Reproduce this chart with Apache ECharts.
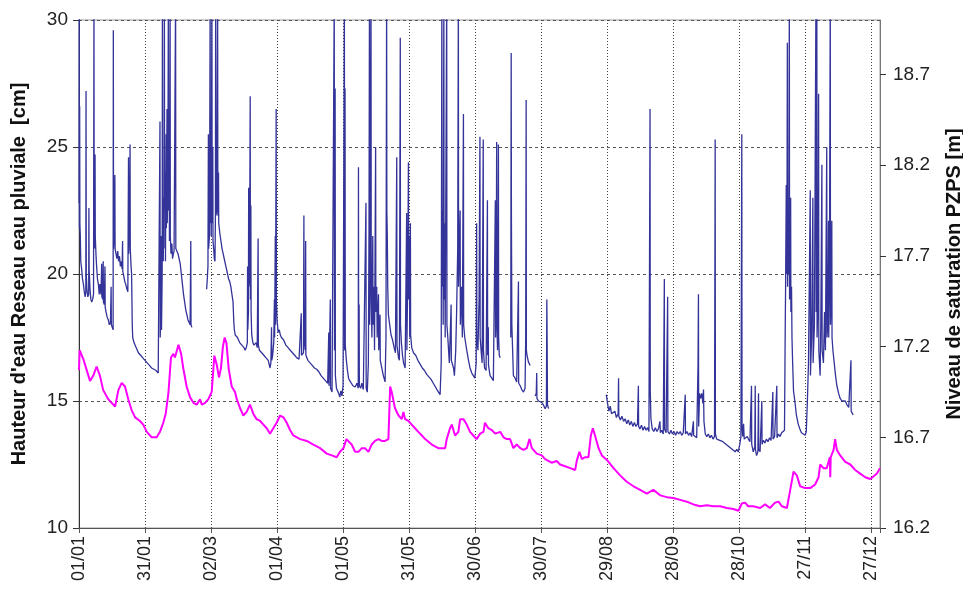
<!DOCTYPE html>
<html>
<head>
<meta charset="utf-8">
<script src="https://cdn.jsdelivr.net/npm/echarts@6/dist/echarts.min.js"></script>
<style>
html,body{margin:0;padding:0;background:#fff;}
#chart{width:963px;height:592px;}
</style>
</head>
<body>
<div id="chart"></div>
<script>
// x tick labels (every 30 days from 01/01)
const xTickLabels = ['01/01','31/01','02/03','01/04','01/05','31/05','30/06','30/07','29/08','28/09','28/10','27/11','27/12'];
// right axis tick labels (m)
const rightTickValues = [16.2, 16.7, 17.2, 17.7, 18.2, 18.7];

// Hauteur d'eau Reseau eau pluviale [cm] : [day of year, value]
const hauteurReseau = [
[0,22.8],[0.1,31],[0.2,21.8],[0.3,26.6],[0.4,22],[0.6,21.5],[0.8,20.5],[1.2,20.2],[1.6,19.8],[2,19.6],[2.4,19.3],[2.8,19.1],[3.1,19.3],[3.2,27.2],[3.3,20.0],[3.6,19.4],[4.0,19.1],[4.4,19.2],[4.5,22.6],[4.6,20.2],[5.0,19.4],[5.4,19.0],[5.8,18.9],[6.2,19.0],[6.6,19.2],[6.8,31],[6.9,21.7],[7.1,21.0],[7.3,24.7],[7.4,21.5],[7.7,20.8],[8.0,20.3],[8.4,19.8],[8.8,19.6],[9.2,19.2],[9.5,19.6],[10,19.2],[10.3,20.4],[10.4,19.1],[10.8,19.0],[11,20.5],[11.1,18.9],[11.5,18.8],[11.8,20.3],[11.9,18.7],[12.3,18.5],[12.8,18.3],[13.3,18.2],[13.8,18.0],[14.3,18.1],[14.6,19.5],[14.7,18.0],[15.1,17.9],[15.5,17.8],[15.6,29.6],[15.7,21.0],[16.0,21.5],[16.3,23.9],[16.4,21.0],[16.8,20.8],[17.2,20.6],[17.6,20.9],[18.0,20.5],[18.4,20.7],[18.8,20.3],[19.2,20.5],[19.6,20.2],[19.8,21.3],[19.9,20.1],[20.4,19.9],[20.8,19.7],[21.2,19.6],[21.8,19.4],[22.2,19.3],[22.5,24.6],[22.6,20.8],[23.0,22.0],[23.2,25.1],[23.3,21.0],[23.6,20.4],[23.9,20.0],[24.2,18.0],[24.4,17.5],[25,17.3],[26,17.1],[27,16.9],[28,16.8],[29,16.7],[30,16.6],[31,16.5],[32,16.4],[33,16.3],[34,16.25],[35,16.2],[36,16.1],[36.5,16.05],[36.7,16.05],[36.8,26.0],[36.9,17.5],[37.2,18.5],[37.4,21.5],[37.5,17.8],[37.8,20.0],[37.9,31],[38.0,21.8],[38.3,20.5],[38.5,23.0],[38.6,21.0],[38.8,31],[38.9,22.5],[39.2,24.0],[39.3,20.5],[39.6,25.5],[39.7,21.8],[40.0,26.5],[40.1,22.0],[40.4,23.5],[40.6,31],[40.7,22.5],[41.0,24.8],[41.1,21.3],[41.4,31],[41.5,21.5],[41.8,20.8],[42.2,21.2],[42.5,20.6],[42.9,20.8],[43.2,20.9],[43.9,31],[44.0,21.0],[44.5,20.9],[45,20.8],[45.5,20.6],[46,20.4],[46.5,20.0],[47,19.6],[47.5,19.2],[48,18.9],[48.5,18.6],[49,18.4],[49.5,18.2],[50,18.1],[50.5,18.0],[50.8,21.3],[50.9,18.0],[51.3,17.9],[51.5,null],
[58.0,19.4],[58.3,19.8],[58.6,20.3],[58.8,25.5],[58.9,21.0],[59.3,21.5],[59.6,31],[59.7,22.0],[60.0,24.0],[60.1,21.5],[60.4,31],[60.5,22.0],[60.8,25.0],[60.9,21.3],[61.2,21.0],[61.5,20.6],[61.8,20.5],[62.0,22.3],[62.1,31],[62.2,22.3],[62.6,22.5],[63.0,31],[63.1,22.3],[63.4,24.0],[63.5,22.0],[64.0,21.6],[64.5,21.3],[65,21.0],[65.5,20.8],[66,20.6],[66.5,20.4],[67,20.2],[67.5,20.0],[68,19.8],[68.5,19.7],[69,19.5],[69.5,19.2],[70,18.9],[70.3,18.2],[70.6,17.8],[71,17.6],[72,17.5],[73,17.3],[74,17.2],[75,17.1],[75.5,17.0],[76.0,17.1],[76.5,17.3],[76.6,20.3],[76.7,17.8],[77.0,18.5],[77.1,23.4],[77.2,19.5],[77.5,20.0],[77.8,27.0],[77.9,19.0],[78.1,22.7],[78.2,18.5],[78.5,17.6],[79,17.3],[79.5,17.2],[80,17.2],[80.5,17.3],[81.0,17.1],[81.4,21.4],[81.5,17.2],[82,17.0],[83,16.9],[84,16.8],[85,16.7],[86,16.6],[86.8,16.3],[87.2,16.5],[87.5,17.9],[87.6,16.6],[88,16.8],[88.5,17.3],[88.8,19.0],[88.9,17.5],[89.2,21.5],[89.3,18.0],[89.6,26.5],[89.7,19.0],[90.0,18.2],[90.5,17.7],[91,17.8],[91.5,17.6],[92,17.5],[93,17.4],[94,17.2],[95,17.1],[96,17.0],[97,16.9],[98,16.8],[99,16.7],[100,16.65],[100.8,16.6],[101.0,18.45],[101.1,16.8],[102.0,16.9],[102.2,22.3],[102.3,17.5],[102.8,17.0],[103.0,21.3],[103.1,16.8],[104,16.6],[105,16.5],[106,16.4],[107,16.3],[108,16.25],[109,16.15],[110,16.0],[111,15.9],[112,15.8],[113,15.7],[113.5,17.7],[113.6,15.6],[114.2,19.0],[114.3,15.5],[115,15.35],[115.8,15.3],[116.0,31],[116.1,17.0],[116.4,27.3],[116.5,16.0],[117,15.5],[118,15.3],[118.5,15.15],[119,15.4],[119.5,15.2],[120,15.6],[120.6,31],[120.7,17.0],[120.9,27.3],[121.0,17.2],[121.5,16.6],[122,16.2],[122.5,15.9],[123,15.8],[123.9,15.75],[124.5,15.6],[125.5,15.55],[126.3,15.7],[126.9,15.5],[127,24.2],[127.1,16.0],[127.3,18.8],[127.4,15.6],[128,15.5],[128.5,15.7],[129.2,15.45],[130,15.5],[130.4,22.8],[130.5,15.5],[131,15.35],[131.5,16.5],[131.8,22.0],[132,31],[132.1,18.0],[132.4,21.5],[132.7,31],[132.8,19.0],[133.1,17.5],[133.5,21.5],[133.6,18.0],[134,19.5],[134.3,17.0],[134.8,25.0],[134.9,18.5],[135.3,19.5],[135.5,17.5],[136.1,19.2],[136.2,17.0],[136.8,18.4],[136.9,16.6],[137.6,16.3],[138.3,16.0],[139.1,15.75],[139.5,17.5],[139.8,31],[139.9,22.5],[140.1,21.5],[140.3,19.5],[140.6,18.4],[141.2,18.0],[141.8,17.6],[142.5,17.4],[143.2,17.1],[143.8,16.9],[144.4,24.6],[144.5,17.2],[145.2,16.7],[145.6,16.6],[146,29.3],[146.1,18.0],[146.5,17.3],[147,16.8],[147.5,16.5],[148.2,16.3],[148.9,22.4],[149,17.0],[149.4,20.0],[149.7,24.4],[149.8,19.0],[150.1,21.5],[150.3,17.5],[150.6,22.0],[150.7,17.6],[151.2,17.1],[152,16.9],[153,16.8],[154,16.6],[155,16.45],[156,16.3],[157,16.2],[158,16.05],[159,15.95],[160,15.85],[161,15.7],[162,15.55],[163,15.4],[164.1,15.25],[164.6,16.5],[164.9,31],[165.0,19.5],[165.3,22.5],[165.5,18.0],[165.8,31],[165.9,19.0],[166.2,22.0],[166.4,17.5],[167.1,31],[167.2,18.0],[167.6,17.5],[168.3,16.5],[169.1,18.8],[169.2,16.6],[169.6,16.55],[170.2,16.3],[170.6,16.0],[171.2,17.0],[171.6,18.5],[172.1,21.0],[172.4,31],[172.5,19.5],[173.2,22.5],[173.3,18.0],[173.8,19.5],[174.2,17.5],[174.7,26.3],[174.8,18.0],[175.3,17.5],[176.2,17.0],[177,16.6],[177.7,16.3],[178.5,16.1],[179.2,16.0],[179.9,15.9],[180.5,16.5],[180.7,22.0],[180.8,17.5],[181.3,17.0],[181.8,19.0],[182.2,25.4],[182.3,17.5],[182.8,16.9],[183.2,16.5],[183.7,25.3],[183.8,17.0],[184.3,16.3],[185,16.2],[185.6,22.9],[185.7,16.8],[186,17.9],[186.1,16.4],[186.8,16.0],[187.6,15.9],[188.3,15.8],[189.1,15.75],[189.2,22.9],[189.3,17.5],[189.6,19.3],[189.8,25.2],[189.9,18.0],[190.2,17.0],[190.6,25.1],[190.7,17.5],[191,16.8],[191.4,16.7],[191.6,null],
[196.2,17.5],[196.4,28.7],[196.5,22.5],[196.7,18.0],[197.4,16.0],[198.2,15.9],[198.9,15.75],[199.7,19.7],[199.8,15.7],[200.5,15.6],[201.2,15.45],[202,15.35],[202.7,15.5],[203.0,17.5],[203.2,26.85],[203.3,17.0],[203.6,16.8],[204.2,16.55],[205,16.4],[205.2,null],
[207.3,15.2],[207.8,15.3],[208,16.1],[208.1,15.1],[208.8,15.0],[209.5,15.05],[210.3,14.95],[211,14.85],[211.8,14.7],[212.4,14.8],[212.6,19.0],[212.7,17.9],[212.9,14.85],[213.4,14.7],[213.6,null],
[239.6,15.25],[240.2,14.9],[240.8,14.6],[241.4,14.8],[242,14.5],[242.9,14.45],[243.5,14.6],[244.2,14.35],[245,14.5],[245.2,15.9],[245.3,14.4],[246,14.25],[246.7,14.4],[247.5,14.2],[248.2,14.3],[248.9,14.1],[249.6,14.25],[250.3,14.05],[251,14.2],[251.7,14.0],[252.4,14.15],[253.1,14.0],[253.8,14.1],[254.2,15.6],[254.3,14.0],[254.9,13.9],[255.6,14.05],[256.3,13.85],[257,14.0],[257.7,13.85],[258.4,13.95],[259,13.8],[259.5,26.5],[259.6,15.4],[259.9,14.3],[260.5,13.9],[261.2,13.8],[261.9,13.95],[262.6,13.8],[263.3,13.9],[264,14.2],[264.2,13.75],[264.8,13.85],[265.5,13.7],[266,19.8],[266.1,13.9],[266.8,13.75],[267.5,19.1],[267.6,13.8],[268.3,13.7],[269,13.85],[269.7,13.7],[270.4,13.8],[271.1,13.65],[271.8,13.8],[272.5,13.7],[273.2,13.8],[273.9,13.65],[274.6,13.75],[275.3,13.7],[275.5,15.25],[275.6,13.7],[276.3,13.8],[277,13.65],[277.7,13.75],[278.4,13.6],[279.2,14.2],[279.3,13.65],[280,13.7],[280.7,13.55],[281.3,16.4],[281.5,19.2],[281.6,14.0],[282,15.3],[282.5,15.1],[283,15.3],[283.5,14.9],[283.8,15.45],[284,14.2],[284.6,13.7],[285.3,13.6],[286,13.7],[286.7,13.55],[287.4,13.65],[288.1,13.5],[288.8,13.6],[289.1,25.3],[289.2,13.7],[289.8,13.5],[290.5,13.55],[291.2,13.45],[291.9,13.5],[292.6,13.4],[293.3,13.45],[294,13.3],[294.7,13.35],[295.4,13.2],[296.1,13.25],[296.8,13.1],[297.5,13.15],[298.2,13.0],[298.9,13.1],[299.6,13.0],[300.3,13.3],[300.8,13.6],[301.2,25.5],[301.3,14.0],[301.6,13.6],[302,14.1],[302.3,13.5],[303,13.45],[303.7,13.6],[304.2,13.5],[304.9,13.4],[305.6,15.6],[305.7,13.3],[306.4,13.0],[307.1,13.2],[307.3,15.6],[307.4,13.1],[307.9,12.85],[308.5,13.0],[308.8,15.3],[308.9,13.1],[309.5,13.0],[310.3,15.0],[310.4,13.3],[311,13.45],[311.7,13.35],[312.4,13.5],[313.1,13.4],[313.8,13.55],[314.5,13.45],[315.3,15.35],[315.4,13.5],[316.1,13.6],[317.1,15.6],[317.2,13.55],[317.9,13.7],[318.6,13.6],[319.3,13.75],[320,13.7],[320.6,13.85],[320.9,17.5],[321.1,19.5],[321.4,23.5],[321.5,20.0],[321.7,21.0],[321.9,29.1],[322.0,19.5],[322.3,22.0],[322.5,20.0],[322.8,31],[322.9,19.0],[323.1,20.5],[323.4,23.0],[323.5,18.5],[323.8,19.5],[324.0,17.5],[324.3,16.5],[324.7,15.4],[325.3,15.0],[326,14.45],[326.8,14.1],[327.6,13.9],[328.3,13.75],[329.1,13.7],[330,13.65],[330.5,13.8],[331,15.0],[331.5,16.5],[332.3,23.3],[332.4,16.0],[332.9,17.5],[333.5,23.0],[333.6,16.5],[334.2,18.0],[334.9,31],[335.0,18.5],[335.3,31],[335.4,17.5],[335.8,19.0],[336.1,27.1],[336.2,17.0],[336.8,16.0],[337.1,18.0],[337.6,24.3],[337.7,17.0],[338.3,16.5],[338.8,18.5],[339.2,17.0],[339.8,25.0],[339.9,17.5],[340.3,18.0],[340.6,22.1],[340.7,17.5],[341.0,19.5],[341.4,31],[341.5,18.0],[341.8,19.0],[342.1,22.1],[342.2,17.5],[342.6,17.0],[343.2,16.5],[343.8,16.0],[344.4,15.6],[345.2,15.3],[345.9,15.1],[346.7,15.0],[347.5,14.95],[348.2,15.0],[349,14.85],[349.8,14.75],[350.5,14.7],[350.8,16.6],[350.9,14.6],[351.3,14.55],[351.8,14.45]
];

// Niveau de saturation PZPS [m] : [day of year, value]
const niveauPZPS = [
[0,17.07],[0.3,17.18],[0.9,17.19],[2,17.13],[3.5,17.07],[5,17.01],[6.5,17.04],[8,17.09],[8.8,17.10],[9.5,17.04],[11,16.96],[13.3,16.91],[14.8,16.89],[16.4,16.87],[17.9,16.96],[19.4,17.0],[20.9,16.98],[22.4,16.91],[23.9,16.85],[25.5,16.81],[27.7,16.79],[29.2,16.77],[30.8,16.73],[33,16.70],[35.3,16.70],[36.8,16.73],[38.3,16.78],[39.4,16.83],[40.6,16.94],[41.8,17.14],[42.9,17.16],[43.6,17.14],[45.2,17.21],[46.4,17.16],[47.4,17.08],[48.9,16.98],[50.5,16.92],[52,16.89],[53.5,16.88],[55,16.91],[55.8,16.88],[57.3,16.89],[58.8,16.91],[60.3,16.95],[61.5,17.15],[62.6,17.10],[63.6,17.03],[64.5,17.08],[65.4,17.2],[66.2,17.25],[67,17.22],[68,17.08],[69.4,16.98],[70.9,16.95],[71.7,16.91],[73.2,16.86],[74.7,16.82],[76.2,16.84],[77.7,16.88],[79.2,16.83],[80.7,16.80],[82.3,16.79],[83.8,16.77],[85.3,16.75],[86.8,16.72],[88.3,16.75],[89.8,16.78],[91.4,16.82],[92.9,16.81],[94.4,16.78],[95.9,16.74],[97.4,16.71],[100.5,16.69],[103.5,16.68],[106.5,16.66],[109.6,16.64],[112.6,16.61],[114.9,16.60],[117.1,16.59],[118.6,16.62],[120.2,16.64],[121.5,16.69],[122.4,16.69],[123.9,16.66],[125.5,16.62],[127,16.62],[128.5,16.64],[130,16.64],[131.5,16.62],[133,16.66],[134.5,16.68],[136.1,16.69],[137.6,16.68],[139.1,16.68],[140.6,16.69],[141.4,16.98],[142.1,16.95],[143.6,16.86],[145.2,16.82],[146.7,16.80],[147.4,16.84],[148.2,16.80],[149.7,16.79],[151.2,16.77],[152.7,16.75],[154.2,16.73],[155.8,16.71],[157.3,16.69],[160.3,16.66],[163.3,16.64],[166.4,16.64],[167.1,16.69],[168.6,16.75],[169.4,16.77],[170.9,16.71],[172.4,16.73],[173.2,16.80],[174.7,16.80],[176.2,16.77],[177.7,16.73],[179.2,16.71],[180.7,16.69],[182.3,16.72],[183.8,16.73],[184.5,16.78],[186,16.75],[187.6,16.74],[189.1,16.72],[191.4,16.73],[192.9,16.70],[194.4,16.69],[195.9,16.69],[197.4,16.64],[198.9,16.66],[200.5,16.64],[202,16.63],[203.5,16.64],[204.7,16.69],[205.8,16.64],[208,16.61],[210.3,16.60],[211.8,16.58],[213.3,16.57],[214.8,16.56],[217.1,16.57],[218.6,16.55],[220.9,16.54],[223.2,16.53],[225.5,16.52],[226.2,16.57],[227.4,16.62],[228.5,16.58],[230,16.59],[231.5,16.59],[232.6,16.71],[233.5,16.75],[234.5,16.71],[236.1,16.64],[237.6,16.60],[239.9,16.575],[242.9,16.53],[245.9,16.49],[248.9,16.455],[252,16.43],[255,16.41],[258,16.39],[261,16.41],[264.1,16.38],[267.1,16.37],[270.1,16.365],[273.2,16.355],[276.2,16.345],[279.2,16.33],[282.3,16.32],[285.3,16.325],[288.3,16.32],[291.4,16.32],[294.4,16.31],[297.4,16.305],[299.7,16.295],[301.2,16.335],[302.7,16.34],[304.1,16.32],[306.4,16.32],[307.3,16.33],[309.5,16.31],[311.8,16.33],[314,16.31],[316.3,16.34],[317.9,16.345],[319.4,16.32],[321.7,16.31],[323.2,16.41],[324.7,16.51],[326.2,16.49],[327.7,16.43],[330,16.42],[332.3,16.42],[334.5,16.44],[336.1,16.48],[336.8,16.55],[338.3,16.53],[339.8,16.53],[341.2,16.59],[341.4,16.48],[341.6,16.59],[342.9,16.63],[343.6,16.69],[344.4,16.63],[345.9,16.60],[348.2,16.565],[350.5,16.55],[352.7,16.52],[355,16.50],[357.3,16.48],[359.5,16.47],[360.6,16.48],[362.6,16.50],[364,16.53]
];

const FONT = 'Liberation Sans, Arial, sans-serif';
const chart = echarts.init(document.getElementById('chart'), null, {renderer:'canvas'});
chart.setOption({
  animation: false,
  backgroundColor: '#ffffff',
  grid: {left: 79, right: 83, top: 20, bottom: 64, outerBoundsMode: 'none', containLabel: false,
    show: true, borderColor: '#9a9a9a', borderWidth: 1, backgroundColor: 'transparent'},
  xAxis: {
    type: 'value', min: 0, max: 364, interval: 30,
    axisLine: {show: true, onZero: false, lineStyle: {color: '#555', width: 1}},
    axisTick: {show: true, length: 5, lineStyle: {color: '#555'}},
    axisLabel: {
      rotate: 90, margin: 8, fontSize: 18, color: '#222', fontFamily: FONT,
      formatter: function (v) { return (v % 30 === 0 && v / 30 < xTickLabels.length) ? xTickLabels[v / 30] : ''; }
    },
    splitLine: {show: true, lineStyle: {type: [1, 2], color: '#444', width: 1}}
  },
  yAxis: [
    {
      type: 'value', min: 10, max: 30, interval: 5, position: 'left',
      name: "Hauteur d'eau Reseau eau pluviale  [cm]", nameLocation: 'middle', nameRotate: 90, nameGap: 50,
      nameTextStyle: {fontSize: 20, fontWeight: 'bold', color: '#111', fontFamily: FONT},
      axisLine: {show: true, lineStyle: {color: '#333', width: 1}},
      axisTick: {show: true, length: 6, lineStyle: {color: '#333'}},
      axisLabel: {fontSize: 19, color: '#222', margin: 11, fontFamily: FONT},
      splitLine: {show: true, lineStyle: {type: [3, 3], color: '#555', width: 1}}
    },
    {
      type: 'value', min: 16.2, max: 19.0, position: 'right',
      name: 'Niveau de saturation PZPS [m]', nameLocation: 'middle', nameRotate: 90, nameGap: 64,
      nameTextStyle: {fontSize: 20, fontWeight: 'bold', color: '#111', fontFamily: FONT},
      axisLine: {show: true, lineStyle: {color: '#777', width: 1}},
      axisTick: {show: true, length: 6, customValues: rightTickValues, lineStyle: {color: '#333'}},
      axisLabel: {fontSize: 19, color: '#222', margin: 13, fontFamily: FONT, customValues: rightTickValues,
        formatter: function (v) { return v.toFixed(1); }},
      splitLine: {show: false}
    }
  ],
  series: [
    {
      name: 'Reseau eau pluviale', type: 'line', xAxisIndex: 0, yAxisIndex: 0,
      data: hauteurReseau, showSymbol: false, symbol: 'none', connectNulls: false, clip: true,
      lineStyle: {color: '#333399', width: 1.3}, z: 3
    },
    {
      name: 'PZPS', type: 'line', xAxisIndex: 0, yAxisIndex: 1,
      data: niveauPZPS, showSymbol: false, symbol: 'none', clip: true,
      lineStyle: {color: '#ff00ff', width: 2}, z: 4
    }
  ]
});
</script>
</body>
</html>
